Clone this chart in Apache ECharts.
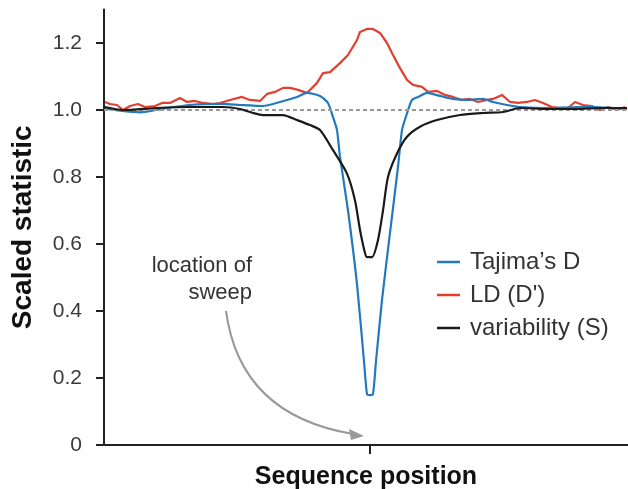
<!DOCTYPE html>
<html>
<head>
<meta charset="utf-8">
<script src="https://cdn.jsdelivr.net/npm/echarts@6/dist/echarts.min.js"></script>
<style>
html,body{margin:0;padding:0;background:#fff;}
#c{width:628px;height:489px;}
</style>
</head>
<body>
<div id="c"></div>
<script>
// Sequence position relative to the sweep location (arbitrary units)
const tajimaPos = [-265,-250,-230,-203,-180,-147,-130,-107,-90,-73,-63,-50,-42,-37,-33,-30,-22,-13,-6,-3,0,3,6,12,20,28,32,37,42,48,57,70,83,97,113,123,137,150,177,207,223,243,257];
const tajimaVal = [1.005,0.998,0.993,1.006,1.015,1.018,1.015,1.012,1.024,1.039,1.051,1.042,1.021,0.979,0.94,0.86,0.70,0.48,0.25,0.152,0.149,0.152,0.25,0.433,0.633,0.83,0.94,0.99,1.03,1.039,1.051,1.042,1.033,1.03,1.033,1.024,1.015,1.009,1.006,1.009,1.009,1.006,1.003];

const ldPos = [-265,-260,-253,-247,-240,-232,-225,-215,-208,-200,-190,-183,-175,-167,-157,-150,-140,-128,-120,-110,-103,-95,-87,-80,-72,-63,-53,-47,-40,-30,-22,-13,-10,-3,3,10,17,23,30,37,43,52,58,67,75,83,92,100,108,117,123,132,140,148,157,165,173,182,190,198,205,213,222,230,238,247,255];
const ldVal = [1.024,1.018,1.015,1.0,1.012,1.018,1.009,1.012,1.021,1.021,1.036,1.024,1.027,1.021,1.018,1.021,1.03,1.039,1.03,1.027,1.048,1.054,1.066,1.066,1.06,1.051,1.081,1.110,1.113,1.14,1.164,1.209,1.233,1.242,1.242,1.23,1.2,1.164,1.125,1.09,1.075,1.069,1.054,1.057,1.045,1.039,1.03,1.033,1.024,1.03,1.033,1.045,1.024,1.021,1.024,1.03,1.021,1.009,1.006,1.006,1.024,1.015,1.012,1.0,1.009,1.0,1.009];

const sPos = [-265,-247,-213,-180,-147,-130,-117,-107,-87,-73,-60,-50,-37,-23,-15,-10,-5,-3,2,8,13,18,27,37,50,67,90,113,133,150,177,207,230,257];
const sVal = [1.009,1.0,1.006,1.009,1.009,1.003,0.991,0.985,0.985,0.97,0.955,0.94,0.88,0.81,0.73,0.642,0.573,0.561,0.561,0.612,0.70,0.80,0.87,0.92,0.95,0.97,0.985,0.991,0.994,1.006,1.003,1.003,1.006,1.006];

const yTicks = [0, 0.2, 0.4, 0.6, 0.8, 1.0, 1.2];
const xTicks = [0];
const seriesNames = ["Tajima’s D", "LD (D')", "variability (S)"];
const refLevel = 1.0;

const zip = (a, b) => a.map((x, i) => [x, b[i]]);
const font = 'Liberation Sans, Arial, Helvetica, sans-serif';

const chart = echarts.init(document.getElementById('c'), null, {renderer: 'canvas'});
chart.setOption({
  animation: false,
  backgroundColor: '#fff',
  grid: {left: 104, right: 0, top: 9.5, bottom: 44, containLabel: false, outerBoundsMode: 'none'},
  xAxis: {
    type: 'value', min: -266, max: 258,
    name: 'Sequence position', nameLocation: 'middle', nameGap: 20,
    nameTextStyle: {fontFamily: font, fontWeight: 'bold', fontSize: 25, color: '#111'},
    axisLine: {show: true, onZero: false, lineStyle: {color: '#222', width: 2}},
    axisTick: {show: true, length: 9, lineStyle: {color: '#222', width: 2}, customValues: xTicks},
    axisLabel: {show: false},
    splitLine: {show: false}
  },
  yAxis: {
    type: 'value', min: 0, max: 1.3,
    name: 'Scaled statistic', nameLocation: 'middle', nameGap: 67,
    nameTextStyle: {fontFamily: font, fontWeight: 'bold', fontSize: 28, color: '#111'},
    axisLine: {show: true, onZero: false, lineStyle: {color: '#222', width: 2}},
    axisTick: {show: true, length: 8, lineStyle: {color: '#222', width: 2}, customValues: yTicks},
    axisLabel: {
      margin: 22, fontFamily: font, fontSize: 21, color: '#3a3a3a',
      customValues: yTicks,
      formatter: v => (v === 0 ? '0' : v.toFixed(1))
    },
    splitLine: {show: false}
  },
  legend: {
    orient: 'vertical', left: 437, top: 250, padding: 0,
    icon: 'rect', itemWidth: 23, itemHeight: 2.5, itemGap: 9,
    textStyle: {fontFamily: font, fontSize: 24, color: '#333', lineHeight: 24, padding: [0, 0, 0, 5]},
    data: seriesNames
  },
  series: [
    {
      name: seriesNames[0], type: 'line', data: zip(tajimaPos, tajimaVal),
      symbol: 'none', smooth: 0.2, z: 4,
      lineStyle: {color: '#2479bd', width: 2.2}, itemStyle: {color: '#2479bd'},
      markLine: {
        silent: true, symbol: 'none', label: {show: false},
        lineStyle: {color: '#999', type: [4, 3], width: 2},
        data: [{yAxis: refLevel}]
      }
    },
    {
      name: seriesNames[1], type: 'line', data: zip(ldPos, ldVal),
      symbol: 'none', smooth: false, z: 3,
      lineStyle: {color: '#e2402f', width: 2.2}, itemStyle: {color: '#e2402f'}
    },
    {
      name: seriesNames[2], type: 'line', data: zip(sPos, sVal),
      symbol: 'none', smooth: 0.25, z: 5,
      lineStyle: {color: '#1a1a1a', width: 2.2}, itemStyle: {color: '#1a1a1a'}
    }
  ],
  graphic: [
    {
      type: 'text', x: 252, y: 252,
      style: {
        text: 'location of\nsweep', textAlign: 'right', fontFamily: font, fontSize: 22,
        lineHeight: 27, fill: '#333'
      }
    },
    {
      type: 'bezierCurve',
      shape: {x1: 226, y1: 311, cpx1: 240, cpy1: 415, x2: 353, y2: 434},
      style: {stroke: '#999', lineWidth: 2, fill: null}
    },
    {
      type: 'polygon',
      shape: {points: [[364, 436], [349, 429], [351, 440]]},
      style: {fill: '#999'}
    }
  ]
});
</script>
</body>
</html>
